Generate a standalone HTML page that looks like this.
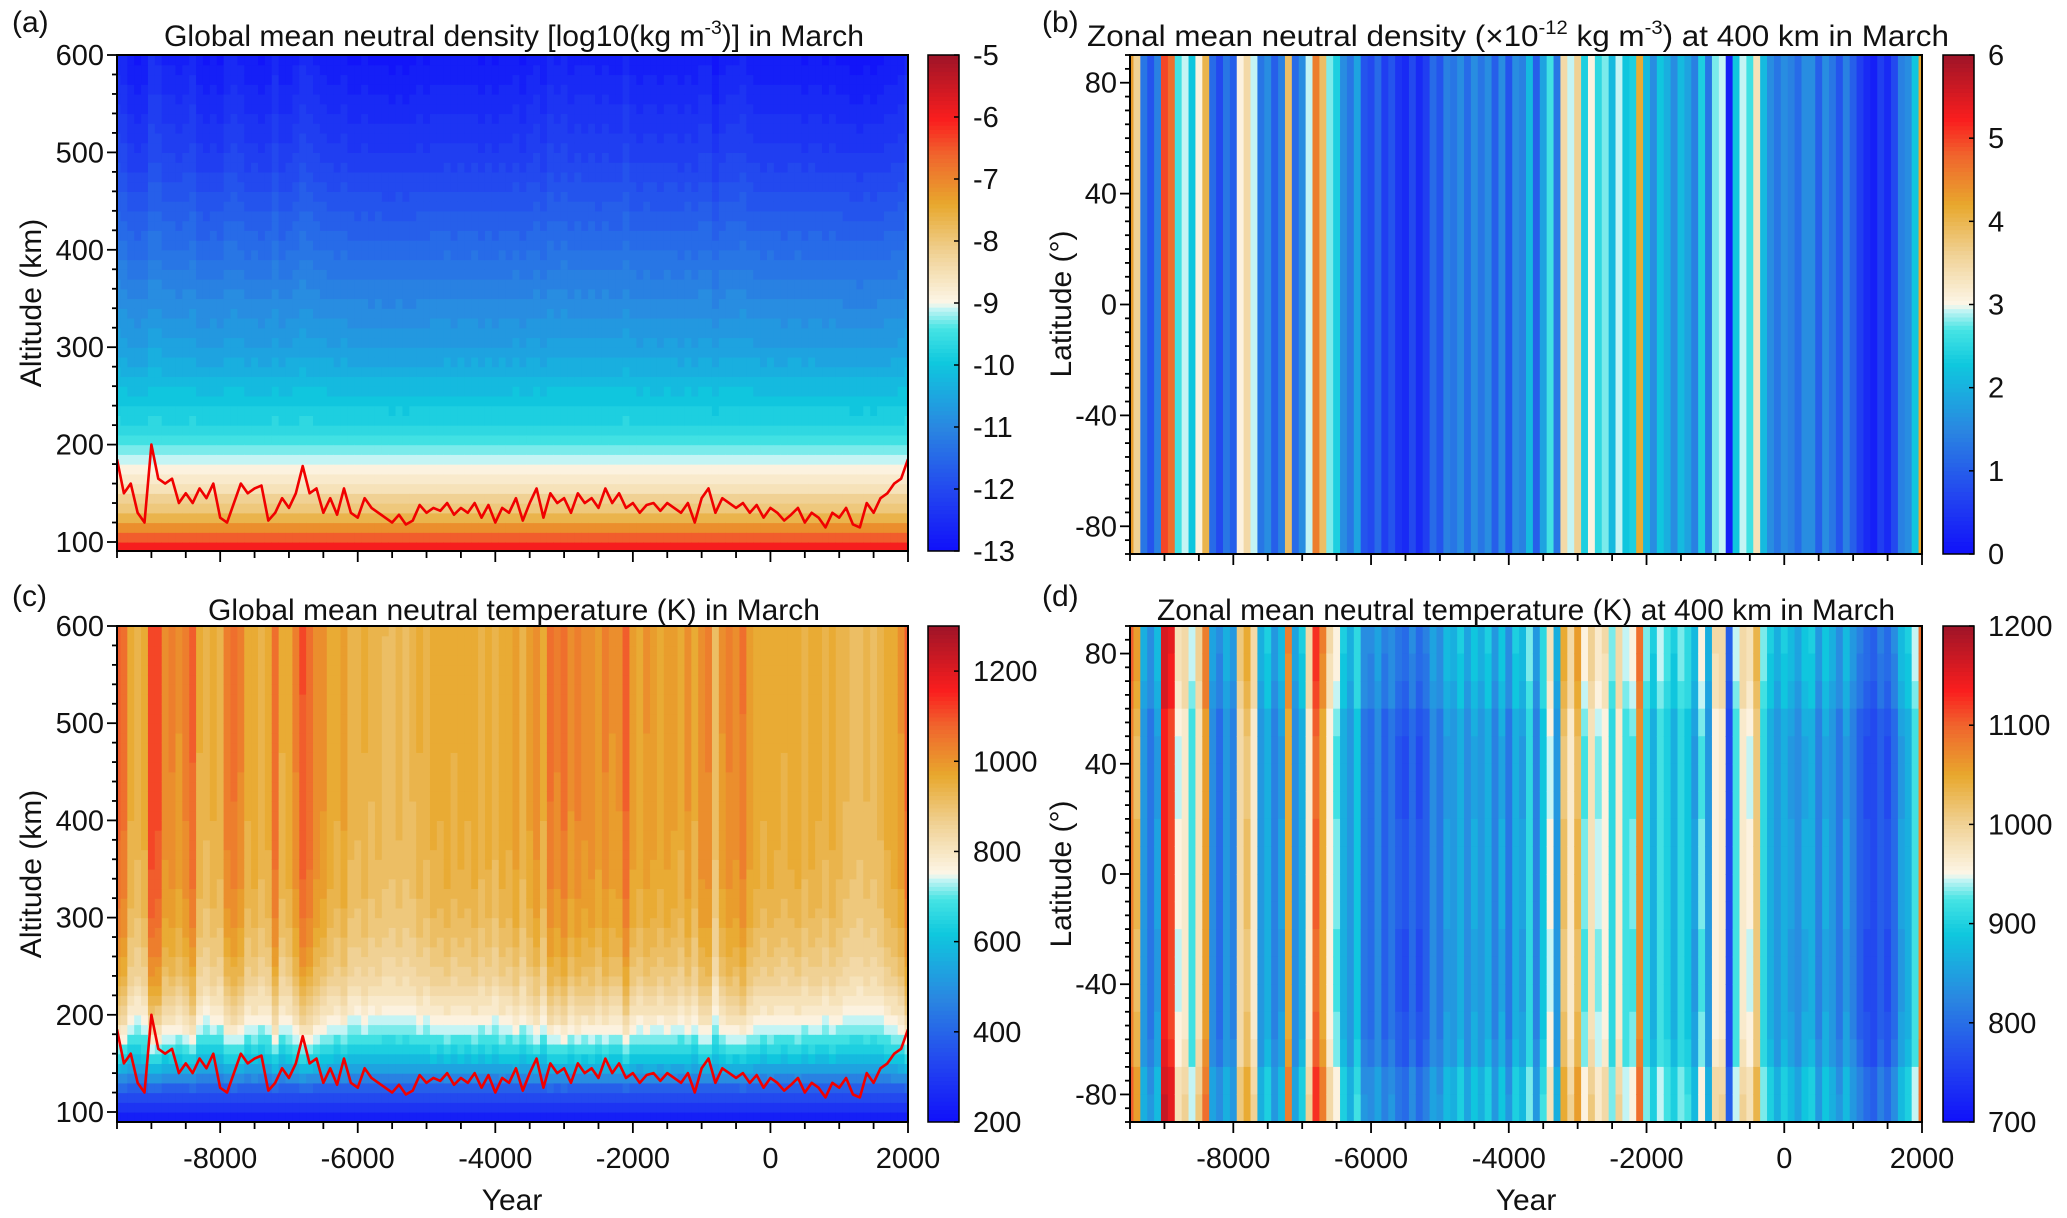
<!DOCTYPE html>
<html><head><meta charset="utf-8"><style>
html,body{margin:0;padding:0;background:#fff;}
svg{display:block;font-family:"Liberation Sans",Arial,sans-serif;}
</style></head><body>
<svg id="fig" width="2067" height="1218" viewBox="0 0 2067 1218" xmlns="http://www.w3.org/2000/svg">
<defs>
<clipPath id="clipA"><rect x="117" y="55" width="791" height="496"/></clipPath>
<clipPath id="clipC"><rect x="117" y="626" width="791" height="496"/></clipPath>
</defs>
<g id="layer"></g>
<g font-size="30" fill="#111">
<text x="12" y="32">(a)</text>
<text x="514" y="46" text-anchor="middle" font-size="29.5" textLength="700" lengthAdjust="spacingAndGlyphs">Global mean neutral density [log10(kg m<tspan dy="-12" font-size="19">-3</tspan><tspan dy="12">)] in March</tspan></text>
<text x="1042" y="32">(b)</text>
<text x="1518" y="46" text-anchor="middle" font-size="29.5" textLength="862" lengthAdjust="spacingAndGlyphs">Zonal mean neutral density (×10<tspan dy="-12" font-size="19">-12</tspan><tspan dy="12"> kg m</tspan><tspan dy="-12" font-size="19">-3</tspan><tspan dy="12">) at 400 km in March</tspan></text>
<text x="12" y="606">(c)</text>
<text x="514" y="620" text-anchor="middle" font-size="29.5" textLength="612" lengthAdjust="spacingAndGlyphs">Global mean neutral temperature (K) in March</text>
<text x="1042" y="606">(d)</text>
<text x="1526" y="620" text-anchor="middle" font-size="29.5" textLength="738" lengthAdjust="spacingAndGlyphs">Zonal mean neutral temperature (K) at 400 km in March</text>
<text x="512" y="1210" text-anchor="middle" font-size="30">Year</text>
<text x="1526" y="1210" text-anchor="middle" font-size="30">Year</text>
<text transform="translate(41,303) rotate(-90)" text-anchor="middle" font-size="30">Altitude (km)</text>
<text transform="translate(41,874) rotate(-90)" text-anchor="middle" font-size="30">Altitude (km)</text>
<text transform="translate(1071,304) rotate(-90)" text-anchor="middle" font-size="30">Latitude (°)</text>
<text transform="translate(1071,874) rotate(-90)" text-anchor="middle" font-size="30">Latitude (°)</text>
</g>
</svg>
<script>
// ---- data ----
const yearStart = -9500;
const yearStep = 100;
const temp400 = [1110,1060,870,840,880,1170,1150,980,1000,950,
1010,1090,860,830,870,850,1020,1050,1000,870,
900,850,880,1080,860,900,1000,1130,1080,990,
960,900,870,920,840,830,860,820,840,810,
800,830,800,820,860,840,880,870,900,860,
890,870,900,850,890,840,900,880,940,850,
920,980,870,1050,1000,1060,960,1010,970,990,
940,1000,950,960,1100,940,900,950,930,900,
940,920,880,960,870,990,1000,790,950,1000,
980,1040,940,900,870,900,880,860,890,900,
850,890,870,840,880,850,820,800,790,820,
800,830,880,900,950,1100];
const lineAlt = [185,150,160,130,120,200,165,160,165,140,
150,140,155,145,160,125,120,140,160,150,
155,158,122,130,145,135,150,178,150,155,
130,145,128,155,130,125,145,135,130,125,
120,128,118,122,138,130,135,132,140,128,
135,130,140,125,138,120,135,130,145,122,
140,155,125,150,140,145,130,150,140,145,
135,155,140,150,135,140,130,138,140,132,
140,135,130,140,120,145,155,130,145,140,
135,140,130,138,125,135,130,122,128,135,
120,130,125,115,130,125,135,118,115,140,
130,145,150,160,165,185];
const densProfileAlt = [90,100,110,120,130,140,150,160,170,180,190,200,220,240,260,280,300,350,400,450,500,550,600];
const densProfileLog = [-5.8,-6.2,-6.9,-7.4,-7.8,-8.1,-8.4,-8.7,-8.85,-9.0,-9.25,-9.4,-9.7,-9.95,-10.15,-10.4,-10.6,-11.0,-11.4,-11.8,-12.2,-12.5,-12.8];
const latBins = [85,75,65,55,45,35,25,15,5,-5,-15,-25,-35,-45,-55,-65,-75,-85];
const latOffset = [20,18,10,-5,-8,-8,-8,-5,-5,-5,-5,-8,-8,-8,-5,0,20,22];
const ticksAlt = [100,200,300,400,500,600];
const ticksLat = [-80,-40,0,40,80];
const ticksYear = [-8000,-6000,-4000,-2000,0,2000];
const cbTicksA = [-13,-12,-11,-10,-9,-8,-7,-6,-5];
const cbTicksB = [0,1,2,3,4,5,6];
const cbTicksC = [200,400,600,800,1000,1200];
const cbTicksD = [700,800,900,1000,1100,1200];

// ---- colormap ----
const stops=[[0,[16,16,250]],[0.12,[35,70,240]],[0.25,[42,135,225]],[0.38,[15,200,222]],[0.45,[70,228,228]],[0.49,[200,245,245]],[0.5,[253,246,232]],[0.6,[240,210,150]],[0.7,[232,168,45]],[0.8,[240,100,45]],[0.87,[250,30,30]],[1,[158,20,40]]];
function cmap(f){f=Math.max(0,Math.min(1,f));f=Math.floor(f*44)/44+0.5/44;f=Math.min(1,f);
 for(let i=1;i<stops.length;i++){if(f<=stops[i][0]){const a=stops[i-1],b=stops[i];const t=(f-a[0])/(b[0]-a[0]);
 const c=a[1].map((v,k)=>Math.round(v+(b[1][k]-v)*t));return `rgb(${c[0]},${c[1]},${c[2]})`;}}
 return 'rgb(158,20,40)';}
function cmapSmooth(f){f=Math.max(0,Math.min(1,f));for(let i=1;i<stops.length;i++){if(f<=stops[i][0]){const a=stops[i-1],b=stops[i];const t=(f-a[0])/(b[0]-a[0]);
 const c=a[1].map((v,k)=>Math.round(v+(b[1][k]-v)*t));return `rgb(${c[0]},${c[1]},${c[2]})`;}}return 'rgb(158,20,40)';}

const NS='http://www.w3.org/2000/svg';
const layer=document.getElementById('layer');
function el(tag,attrs,parent){const e=document.createElementNS(NS,tag);for(const k in attrs)e.setAttribute(k,attrs[k]);(parent||layer).appendChild(e);return e;}

const L={x0:117,x1:908}, R={x0:1130,x1:1922};
function xs(P,yr){return P.x0+(yr+9500)/11500*(P.x1-P.x0);}
function yAltA(a){return 55+(600-a)*0.974;}
function yAltC(a){return 626+(600-a)*0.972;}
function yLatB(l){return 55+(90-l)/180*499;}
function yLatD(l){return 626+(90-l)/180*496;}
function interpDens(z){for(let i=1;i<densProfileAlt.length;i++){if(z<=densProfileAlt[i]){const t=(z-densProfileAlt[i-1])/(densProfileAlt[i]-densProfileAlt[i-1]);return densProfileLog[i-1]+t*(densProfileLog[i]-densProfileLog[i-1]);}}return densProfileLog[densProfileLog.length-1];}
function tempProfile(tinf,z){if(z<120)return 200+(z-90)/30*150;return tinf-(tinf-350)*Math.exp(-0.015*(z-120));}

const gA=el('g',{'clip-path':'url(#clipA)'});


const gC=el('g',{'clip-path':'url(#clipC)'});


const gB=el('g',{});


const gD=el('g',{});



for(let i=0;i<temp400.length;i++){
 const yr=yearStart+i*yearStep;
 const T=temp400[i];
 const xa0=Math.max(L.x0,xs(L,yr-50)), xa1=Math.min(L.x1,xs(L,yr+50));
 const xb0=Math.max(R.x0,xs(R,yr-50)), xb1=Math.min(R.x1,xs(R,yr+50));
 for(let z=90;z<600;z+=10){
  let lr=interpDens(z+5);
  if(z+5>150) lr+=(T-900)*0.0012*(z+5-150)/450;
  const ra=el('rect',{x:xa0.toFixed(2),y:yAltA(z+10).toFixed(2),width:(xa1-xa0+0.6).toFixed(2),height:(0.974*10+0.6).toFixed(2),fill:cmap((lr+13)/8)},gA);
  
  
  const tc=tempProfile(975+(T-900)*0.55,z+5);
  const rc=el('rect',{x:xa0.toFixed(2),y:yAltC(z+10).toFixed(2),width:(xa1-xa0+0.6).toFixed(2),height:(0.972*10+0.6).toFixed(2),fill:cmap((tc-200)/1100)},gC);
  
  
 }
 const dens=(T-770)/480*6;
 const rb=el('rect',{x:xb0.toFixed(2),y:55,width:(xb1-xb0+0.6).toFixed(2),height:499,fill:cmap(dens/6)},gB);
 
 
 for(let j=0;j<latBins.length;j++){
  const tl=T-25+latOffset[j];
  const rd=el('rect',{x:xb0.toFixed(2),y:yLatD(latBins[j]+5).toFixed(2),width:(xb1-xb0+0.6).toFixed(2),height:(496/18+0.6).toFixed(2),fill:cmap((tl-700)/500)},gD);
  
  
 }
}
// red line
function linePath(yf){return lineAlt.map((v,i)=>(i?'L':'M')+xs(L,yearStart+i*yearStep).toFixed(2)+','+yf(v).toFixed(2)).join(' ');}
const la=el('path',{d:linePath(yAltA),fill:'none',stroke:'#f00000','stroke-width':2.6,'stroke-linejoin':'round'},gA);


const lc=el('path',{d:linePath(yAltC),fill:'none',stroke:'#f00000','stroke-width':2.6,'stroke-linejoin':'round'},gC);



// axes
function frame(P,y0,y1,name){const r=el('rect',{x:P.x0,y:y0,width:P.x1-P.x0,height:y1-y0,fill:'none',stroke:'#000','stroke-width':2});
 
 }
function xAxis(P,yb,labels,name){
 for(let yr=-9500;yr<=2000;yr+=500){const x=xs(P,yr);const major=ticksYear.includes(yr);
  const t=el('line',{x1:x,x2:x,y1:yb,y2:yb+(major?11:7),stroke:'#000','stroke-width':1.8});
  
  }
 if(labels) ticksYear.forEach(yr=>{const t=el('text',{x:xs(P,yr),y:yb+46,'text-anchor':'middle','font-size':29,fill:'#111'});t.textContent=yr;
  
  });
}
function yAxisAlt(P,yf,name){
 for(let a=100;a<=600;a+=20){const y=yf(a);const major=ticksAlt.includes(a);
  const t=el('line',{x1:P.x0,x2:P.x0-(major?10:5),y1:y,y2:y,stroke:'#000','stroke-width':1.8});
  
  }
 ticksAlt.forEach(a=>{const t=el('text',{x:P.x0-13,y:yf(a)+10,'text-anchor':'end','font-size':29,fill:'#111'});t.textContent=a;
  
  });
}
function yAxisLat(P,yf,name){
 for(let a=-90;a<=90;a+=5){const y=yf(a);const major=ticksLat.includes(a);
  const t=el('line',{x1:P.x0,x2:P.x0-(major?10:5),y1:y,y2:y,stroke:'#000','stroke-width':1.8});
  
  }
 ticksLat.forEach(a=>{const t=el('text',{x:P.x0-13,y:yf(a)+10,'text-anchor':'end','font-size':29,fill:'#111'});t.textContent=a;
  
  });
}
function colorbar(x0,y0,y1,vmin,vmax,ticks,name){
 const n=120,h=(y1-y0)/n;
 for(let k=0;k<n;k++){const f=(k+0.5)/n;const r=el('rect',{x:x0,y:(y1-(k+1)*h).toFixed(2),width:31,height:(h+0.5).toFixed(2),fill:cmapSmooth(f)});
  
  }
 const fr=el('rect',{x:x0,y:y0,width:31,height:y1-y0,fill:'none',stroke:'#000','stroke-width':1.5});
 
 
 ticks.forEach(v=>{const y=y1-(v-vmin)/(vmax-vmin)*(y1-y0);
  const tk=el('line',{x1:x0+31,x2:x0+26,y1:y,y2:y,stroke:'#000','stroke-width':1.5});
  
  
  const t=el('text',{x:x0+45,y:y+10,'font-size':29,fill:'#111'});t.textContent=v;
  
  });
}
frame(L,55,551,'panel-a-frame');frame(L,626,1122,'panel-c-frame');
frame(R,55,554,'panel-b-frame');frame(R,626,1122,'panel-d-frame');
xAxis(L,551,false,'x-axis-a');xAxis(L,1122,true,'x-axis-c');
xAxis(R,554,false,'x-axis-b');xAxis(R,1122,true,'x-axis-d');
yAxisAlt(L,yAltA,'y-axis-a');yAxisAlt(L,yAltC,'y-axis-c');
yAxisLat(R,yLatB,'y-axis-b');yAxisLat(R,yLatD,'y-axis-d');
colorbar(928,55,551,-13,-5,cbTicksA,'colorbar-a');
colorbar(1943,55,554,0,6,cbTicksB,'colorbar-b');
colorbar(928,626,1122,200,1300,cbTicksC,'colorbar-c');
colorbar(1943,626,1122,700,1200,cbTicksD,'colorbar-d');
</script>
</body></html>
